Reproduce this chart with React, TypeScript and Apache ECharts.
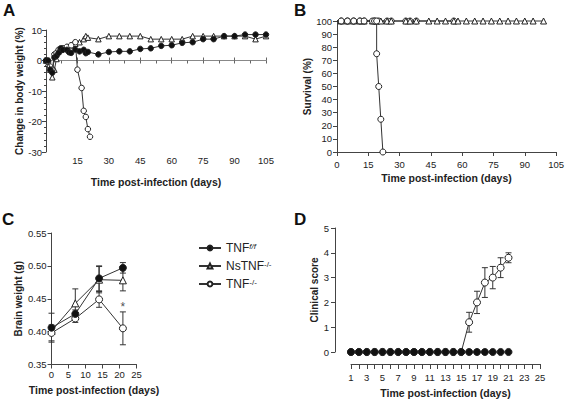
import React, { useEffect, useRef } from 'react';
import * as echarts from 'echarts';

// ---------- Panel A: change in body weight (%) ----------
const aDaysFF = [0, 1, 2, 3, 4, 5, 6, 7, 8, 10, 11, 12, 14, 16, 18, 19, 20, 25, 30, 35, 40, 45, 50, 55, 60, 65, 70, 75, 80, 85, 90, 95, 100, 105];
const aValsFF = [0, 0, -3, -4, 1, 1.5, 2.5, 4, 3.5, 3.5, 2.7, 2.5, 3.6, 3, 3.5, 2.4, 2.8, 2, 2.8, 3, 3, 3.8, 4, 4.8, 5, 5.8, 6, 7, 7, 8, 8, 8.5, 8.5, 8.5];
const aDaysNs = [0, 1, 2, 3, 4, 5, 6, 7, 8, 10, 12, 14, 16, 18, 19, 20, 25, 30, 35, 40, 45, 50, 55, 60, 65, 70, 75, 80, 85, 90, 95, 100, 105];
const aValsNs = [0, -1, -3, -5.5, -3, 0.5, 3, 3.5, 4, 4.5, 5, 5.5, 6, 7, 8, 7.5, 7, 8, 8, 8, 8, 7, 7, 7, 7, 8, 8, 8, 8, 8, 8, 7, 8];
const aDaysKO = [0, 1, 2, 3, 4, 5, 6, 7, 8, 10, 12, 14, 15, 17, 18, 19, 20, 21];
const aValsKO = [0, -0.5, -2, -3, 2, 2.5, 3.5, 3.5, 4, 4.5, 5, 6, -3, -9, -16.5, -18.5, -22.5, -25];

// ---------- Panel B: survival (%) ----------
const bStart = [0, 100];
const bMarkDaysFF = [2, 5, 8, 11, 13, 18, 20, 24, 26, 33, 35, 38, 56];
const bMarkDaysNs = [2, 5, 8, 11, 13, 17, 19, 21, 24, 26, 33, 35, 38, 44, 48, 52, 56, 58, 62, 66, 70, 74, 78, 82, 86, 90, 94, 99];
const bMarkDaysKO = [2, 5, 8, 11, 13, 17, 18];
const bDropDaysKO = [19, 19, 20, 21, 22];
const bDropValsKO = [100, 75, 50, 25, 0];

// ---------- Panel C: brain weight (g) ----------
const cDays = [0, 7, 14, 21];
const cFF = [0.406, 0.427, 0.481, 0.497];
const cFFErr = [0.022, 0.006, 0.019, 0.008];
const cNs = [0.401, 0.443, 0.479, 0.478];
const cNsErr = [0.005, 0.022, 0.02, 0.016];
const cKO = [0.398, 0.42, 0.449, 0.405];
const cKOErr = [0.012, 0.006, 0.012, 0.025];
const cStar = [[21, 0.437]];

// ---------- Panel D: clinical score ----------
const dDays = [1, 2, 3, 4, 5, 6, 7, 8, 9, 10, 11, 12, 13, 14, 15, 16, 17, 18, 19, 20, 21];
const dFF = [0, 0, 0, 0, 0, 0, 0, 0, 0, 0, 0, 0, 0, 0, 0, 0, 0, 0, 0, 0, 0];
const dKO = [0, 0, 0, 0, 0, 0, 0, 0, 0, 0, 0, 0, 0, 0, 0, 1.2, 2.0, 2.8, 3.0, 3.4, 3.8];
const dKOErr = [0, 0, 0, 0, 0, 0, 0, 0, 0, 0, 0, 0, 0, 0, 0, 0.4, 0.45, 0.6, 0.45, 0.4, 0.2];

const FONT = '"Liberation Sans", Arial, sans-serif';
const INK = '#222';
const AX = '#444';

const zip = (xs: number[], ys: number[]) => xs.map((x, i) => [x, ys[i]]);

const errRender = (cap: number) => (params: any, api: any) => {
  const x = api.value(0), y = api.value(1), e = api.value(2);
  if (!e) return null;
  const hi = api.coord([x, y + e]);
  const lo = api.coord([x, y - e]);
  const st = { stroke: '#333', lineWidth: 1 };
  return {
    type: 'group',
    children: [
      { type: 'line', shape: { x1: hi[0], y1: hi[1], x2: lo[0], y2: lo[1] }, style: st },
      { type: 'line', shape: { x1: hi[0] - cap, y1: hi[1], x2: hi[0] + cap, y2: hi[1] }, style: st },
      { type: 'line', shape: { x1: lo[0] - cap, y1: lo[1], x2: lo[0] + cap, y2: lo[1] }, style: st },
    ],
  };
};

const axLine = { show: true, onZero: false, lineStyle: { color: AX, width: 1 } };
const axTick = { show: true, length: 4, lineStyle: { color: AX, width: 1 } };
const axLabel = (extra: any = {}) => ({ color: INK, fontSize: 9.5, fontFamily: FONT, ...extra });
const nameStyle = { color: INK, fontSize: 10.5, fontWeight: 'bold', fontFamily: FONT };
const yNameStyle = { color: INK, fontSize: 10, fontWeight: 'bold', fontFamily: FONT };

const lineSeries = (name: string, xi: number, yi: number, data: any[], symbol: string, size: number, filled: boolean, z = 3) => ({
  type: 'line',
  name,
  xAxisIndex: xi,
  yAxisIndex: yi,
  data,
  symbol,
  symbolSize: size,
  showAllSymbol: true,
  clip: false,
  z,
  lineStyle: { color: '#333', width: 1 },
  itemStyle: { color: filled ? '#111' : '#fff', borderColor: '#222', borderWidth: 1 },
  emphasis: { disabled: true },
});

const survData = (days: number[]) => [
  { value: bStart, symbol: 'none' },
  ...days.map((d) => [d, 100]),
];

const option: any = {
  animation: false,
  backgroundColor: '#fff',
  textStyle: { fontFamily: FONT },
  grid: [
    { left: 46, top: 30, width: 220, height: 122 },
    { left: 337, top: 21, width: 221, height: 131 },
    { left: 51.5, top: 233, width: 85, height: 131.5 },
    { left: 351, top: 228, width: 189, height: 124 },
  ],
  xAxis: [
    // 0: A zero line with downward ticks
    {
      gridIndex: 0, type: 'value', min: 0, max: 105, interval: 15, position: 'bottom',
      axisLine: { show: true, onZero: true, onZeroAxisIndex: 0, lineStyle: { color: '#888', width: 1 } },
      axisTick: { show: true, length: 3, lineStyle: { color: '#666' } },
      minorTick: { show: true, splitNumber: 2, length: 3, lineStyle: { color: '#666' } },
      axisLabel: { show: false }, splitLine: { show: false },
    },
    // 1: A upward ticks (invisible line, on the zero of a hidden twin y axis)
    {
      gridIndex: 0, type: 'value', min: 0, max: 105, interval: 15, position: 'top',
      axisLine: { show: true, onZero: true, onZeroAxisIndex: 4, lineStyle: { color: 'rgba(0,0,0,0)', width: 0 } },
      axisTick: { show: true, length: 3, lineStyle: { color: '#666' } },
      axisLabel: { show: false }, splitLine: { show: false },
    },
    // 2: A bottom labels
    {
      gridIndex: 0, type: 'value', min: 0, max: 105, interval: 15, position: 'bottom',
      axisLine: { show: false, onZero: false }, axisTick: { show: false },
      axisLabel: axLabel({ margin: 3.5, formatter: (v: number) => (v === 0 ? '' : String(v)) }),
      splitLine: { show: false },
      name: 'Time post-infection (days)', nameLocation: 'middle', nameGap: 24, nameTextStyle: nameStyle,
    },
    // 3: B
    {
      gridIndex: 1, type: 'value', min: 0, max: 105, interval: 15,
      axisLine: axLine, axisTick: axTick, axisLabel: axLabel({ margin: 7 }), splitLine: { show: false },
      name: 'Time post-infection (days)', nameLocation: 'middle', nameGap: 20, nameTextStyle: nameStyle,
    },
    // 4: C
    {
      gridIndex: 2, type: 'value', min: 0, max: 25, interval: 5,
      axisLine: axLine, axisTick: axTick, axisLabel: axLabel({ margin: 5 }), splitLine: { show: false },
      name: 'Time post-infection (days)', nameLocation: 'middle', nameGap: 20, nameTextStyle: nameStyle,
    },
    // 5: D
    {
      gridIndex: 3, type: 'value', min: 1, max: 25, interval: 1, offset: 12,
      axisLine: axLine, axisTick: { ...axTick, length: 5 },
      axisLabel: axLabel({ margin: 8.5, formatter: (v: number) => (v % 2 === 1 ? String(v) : '') }),
      splitLine: { show: false },
      name: 'Time post-infection (days)', nameLocation: 'middle', nameGap: 23, nameTextStyle: nameStyle,
    },
  ],
  yAxis: [
    {
      gridIndex: 0, type: 'value', min: -30, max: 10, interval: 10,
      axisLine: axLine, axisTick: axTick,
      minorTick: { show: true, splitNumber: 5, length: 2, lineStyle: { color: AX } },
      axisLabel: axLabel({ margin: 4 }), splitLine: { show: false },
      name: 'Change in body weight (%)', nameLocation: 'middle', nameGap: 18, nameTextStyle: yNameStyle,
    },
    {
      gridIndex: 1, type: 'value', min: 0, max: 100, interval: 10,
      axisLine: axLine, axisTick: axTick, axisLabel: axLabel({ margin: 5 }), splitLine: { show: false },
      name: 'Survival (%)', nameLocation: 'middle', nameGap: 20, nameTextStyle: yNameStyle,
    },
    {
      gridIndex: 2, type: 'value', min: 0.35, max: 0.55, interval: 0.05,
      axisLine: axLine, axisTick: axTick,
      axisLabel: axLabel({ margin: 5, formatter: (v: number) => v.toFixed(2) }), splitLine: { show: false },
      name: 'Brain weight (g)', nameLocation: 'middle', nameGap: 28, nameTextStyle: yNameStyle,
    },
    {
      gridIndex: 3, type: 'value', min: 0, max: 5, interval: 1, offset: 16,
      axisLine: axLine, axisTick: axTick, axisLabel: axLabel({ margin: 6 }), splitLine: { show: false },
      name: 'Clinical score', nameLocation: 'middle', nameGap: 14, nameTextStyle: yNameStyle,
    },
    // 4: hidden twin of A's y axis
    {
      gridIndex: 0, type: 'value', min: -30, max: 10, interval: 10, position: 'left',
      axisLine: { show: false, onZero: false }, axisTick: { show: false }, axisLabel: { show: false },
      splitLine: { show: false },
    },
  ],
  legend: {
    data: ['TNF f/f', 'NsTNF-/-', 'TNF-/-'],
    orient: 'vertical',
    left: 193,
    top: 237,
    itemWidth: 22,
    itemHeight: 6,
    itemGap: 6,
    selectedMode: false,
    textStyle: {
      fontSize: 12,
      color: INK,
      fontFamily: FONT,
      rich: {
        b: { fontSize: 12, color: INK, fontFamily: FONT },
        s: { fontSize: 8, color: INK, fontFamily: FONT, verticalAlign: 'top' },
        si: { fontSize: 8, color: INK, fontFamily: FONT, fontStyle: 'italic', verticalAlign: 'top' },
      },
    },
    formatter: (name: string) =>
      name === 'TNF f/f' ? '{b|TNF}{si|f/f}' : name === 'NsTNF-/-' ? '{b|NsTNF}{s|-/-}' : '{b|TNF}{s|-/-}',
  },
  graphic: [
    { type: 'text', left: 3, top: 2, style: { text: 'A', fontSize: 17, fontWeight: 'bold', fontFamily: FONT, fill: '#111' } },
    { type: 'text', left: 294, top: 2, style: { text: 'B', fontSize: 17, fontWeight: 'bold', fontFamily: FONT, fill: '#111' } },
    { type: 'text', left: 2, top: 211, style: { text: 'C', fontSize: 17, fontWeight: 'bold', fontFamily: FONT, fill: '#111' } },
    { type: 'text', left: 294, top: 211, style: { text: 'D', fontSize: 17, fontWeight: 'bold', fontFamily: FONT, fill: '#111' } },
  ],
  series: [
    // Panel C (first so legend takes its styles)
    lineSeries('TNF f/f', 4, 2, zip(cDays, cFF), 'circle', 7, true, 5),
    lineSeries('NsTNF-/-', 4, 2, zip(cDays, cNs), 'triangle', 7, false, 4),
    lineSeries('TNF-/-', 4, 2, zip(cDays, cKO), 'circle', 7, false, 4),
    { type: 'custom', xAxisIndex: 4, yAxisIndex: 2, renderItem: errRender(3), encode: { x: 0, y: 1 }, data: cDays.map((d, i) => [d, cFF[i], cFFErr[i]]), z: 2 },
    { type: 'custom', xAxisIndex: 4, yAxisIndex: 2, renderItem: errRender(3), encode: { x: 0, y: 1 }, data: cDays.map((d, i) => [d, cNs[i], cNsErr[i]]), z: 2 },
    { type: 'custom', xAxisIndex: 4, yAxisIndex: 2, renderItem: errRender(3), encode: { x: 0, y: 1 }, data: cDays.map((d, i) => [d, cKO[i], cKOErr[i]]), z: 2 },
    {
      type: 'scatter', xAxisIndex: 4, yAxisIndex: 2, data: cStar, symbolSize: 1,
      itemStyle: { color: 'rgba(0,0,0,0)' },
      label: { show: true, position: 'inside', formatter: '*', fontSize: 12, color: INK, fontFamily: FONT },
    },

    // Panel A
    lineSeries('NsTNF-/-', 0, 0, zip(aDaysNs, aValsNs), 'triangle', 5.5, false, 3),
    lineSeries('TNF-/-', 0, 0, zip(aDaysKO, aValsKO), 'circle', 5.5, false, 3),
    lineSeries('TNF f/f', 0, 0, zip(aDaysFF, aValsFF), 'circle', 5.5, true, 4),

    // Panel B
    lineSeries('TNF f/f', 3, 1, survData(bMarkDaysFF), 'circle', 6, false, 3),
    lineSeries('NsTNF-/-', 3, 1, survData(bMarkDaysNs), 'triangle', 6, false, 3),
    lineSeries('TNF-/-', 3, 1, [...survData(bMarkDaysKO), ...zip(bDropDaysKO, bDropValsKO)], 'circle', 6, false, 3),

    // Panel D
    { type: 'custom', xAxisIndex: 5, yAxisIndex: 3, renderItem: errRender(3), encode: { x: 0, y: 1 }, data: dDays.map((d, i) => [d, dKO[i], dKOErr[i]]), z: 2 },
    lineSeries('TNF-/-', 5, 3, zip(dDays, dKO), 'circle', 7, false, 3),
    lineSeries('TNF f/f', 5, 3, zip(dDays, dFF), 'circle', 7, true, 4),
  ],
};

export default function App() {
  const ref = useRef<HTMLDivElement>(null);
  useEffect(() => {
    if (!ref.current) return;
    const chart = echarts.init(ref.current, null, { renderer: 'svg' });
    chart.setOption(option);
    return () => chart.dispose();
  }, []);
  return (
    <div
      ref={ref}
      style={{ position: 'fixed', left: 0, top: 0, width: 567, height: 400, background: '#fff' }}
    />
  );
}
